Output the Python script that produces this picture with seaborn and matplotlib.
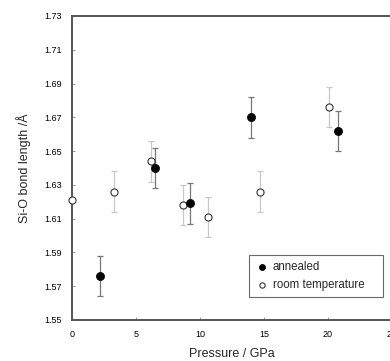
import matplotlib
matplotlib.use("Agg")
import matplotlib.pyplot as plt
import seaborn as sns
import pandas as pd

# data
ann_p = [2.2, 6.5, 9.2, 14.0, 20.8]
ann_len = [1.576, 1.640, 1.619, 1.670, 1.662]
ann_err = [0.012, 0.012, 0.012, 0.012, 0.012]
rt_p = [0.0, 3.3, 6.2, 8.7, 10.6, 14.7, 20.1]
rt_len = [1.621, 1.626, 1.644, 1.618, 1.611, 1.626, 1.676]
rt_err = [0.0, 0.012, 0.012, 0.012, 0.012, 0.012, 0.012]
yticks = [1.55, 1.57, 1.59, 1.61, 1.63, 1.65, 1.67, 1.69, 1.71, 1.73]
xticks = [0, 5, 10, 15, 20, 25]

sns.set_style("white")
plt.rcParams['font.family'] = ['Liberation Sans', 'DejaVu Sans']

df = pd.concat([
    pd.DataFrame({"p": ann_p, "len": ann_len, "err": ann_err, "kind": "annealed"}),
    pd.DataFrame({"p": rt_p, "len": rt_len, "err": rt_err, "kind": "room temperature"}),
])

fig = plt.figure(figsize=(3.9, 3.61), dpi=100)
ax = fig.add_axes([0.1846, 0.1136, 0.8205, 0.8421])

ax.errorbar(rt_p, rt_len, yerr=rt_err, fmt='none', ecolor='#c8c8c8',
            elinewidth=0.9, capsize=2, capthick=0.9, zorder=1)
ax.errorbar(ann_p, ann_len, yerr=ann_err, fmt='none', ecolor='#777777',
            elinewidth=0.9, capsize=2, capthick=0.9, zorder=1)

sns.scatterplot(data=df[df.kind == "room temperature"], x="p", y="len", ax=ax,
                marker='o', s=26, facecolor='white', edgecolor='#333333',
                linewidth=0.8, zorder=3, clip_on=False, label="room temperature")
sns.scatterplot(data=df[df.kind == "annealed"], x="p", y="len", ax=ax,
                marker='o', s=34, color='black', edgecolor='black',
                linewidth=0.5, zorder=3, label="annealed")

ax.set_xlim(0, 25)
ax.set_ylim(1.55, 1.73)
ax.set_xticks(xticks)
ax.set_xticklabels([str(t) for t in xticks])
ax.set_yticks(yticks)
ax.set_yticklabels([f"{t:.2f}" for t in yticks])
ax.tick_params(axis='both', which='both', direction='in', length=2, width=0.6,
               labelsize=6.5, colors='#888888', labelcolor='black', pad=7,
               left=True, bottom=True)
ax.set_xlabel("Pressure / GPa", fontsize=9, labelpad=7)
ax.set_ylabel("Si-O bond length /Å", fontsize=9, labelpad=10)

for side in ['left', 'bottom', 'top']:
    ax.spines[side].set_color('#555555')
    ax.spines[side].set_linewidth(1.4)
ax.spines['right'].set_visible(False)

h, l = ax.get_legend_handles_labels()
order = [l.index("annealed"), l.index("room temperature")]
leg = ax.legend([h[i] for i in order], [l[i] for i in order],
                loc='upper left',
                bbox_to_anchor=(249 / 390, 1 - 298 / 361, 134 / 390, 43 / 361),
                bbox_transform=fig.transFigure, borderaxespad=0, mode='expand',
                frameon=True, fancybox=False, edgecolor='#444444',
                fontsize=8.3, handletextpad=0.3, borderpad=0.55,
                handlelength=1.2, labelspacing=0.45, markerscale=0.75)
leg.get_frame().set_linewidth(0.8)

fig.savefig("out.png", dpi=100)
